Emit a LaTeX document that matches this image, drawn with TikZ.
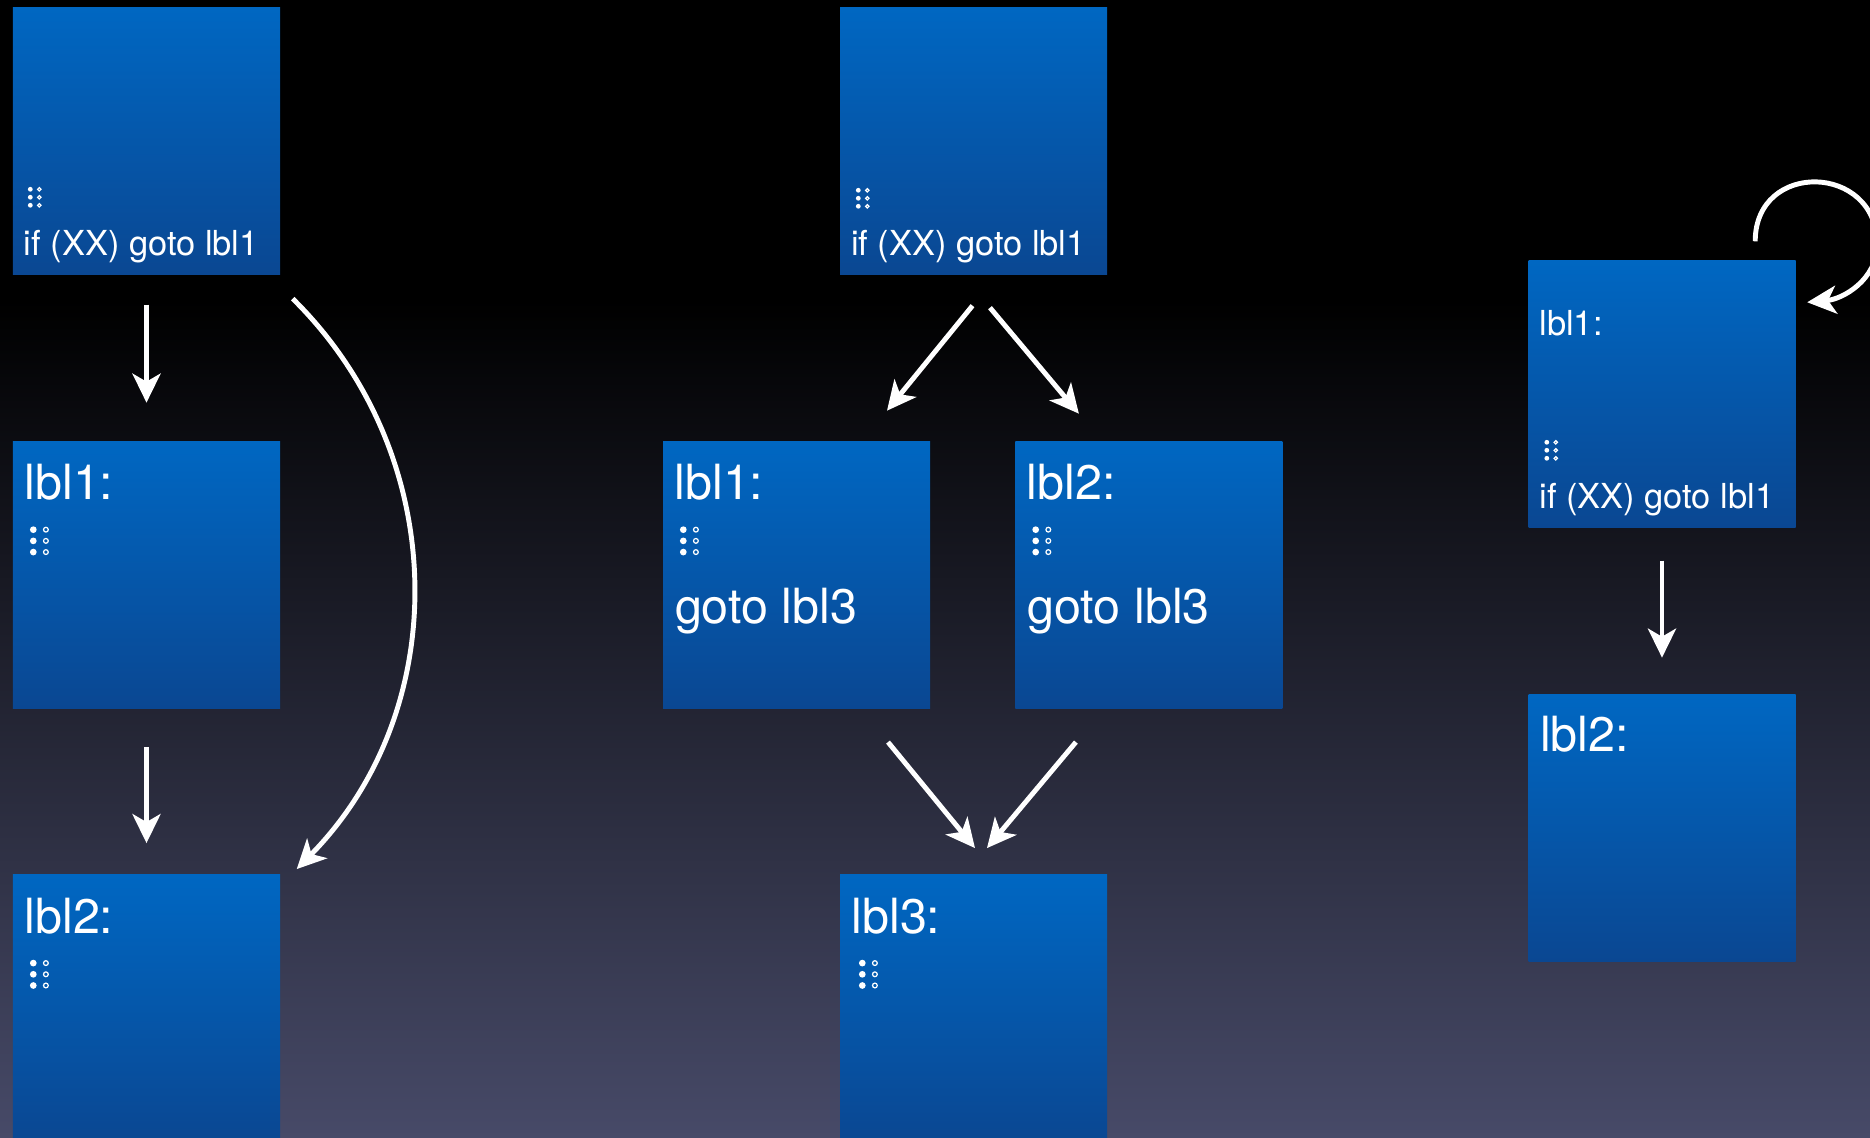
\documentclass[tikz,border=0pt]{standalone}
\usepackage{fontspec}
\setmainfont{TeX Gyre Heros}
\usetikzlibrary{positioning,arrows.meta}

\definecolor{boxtop}{HTML}{0067C2}
\definecolor{boxbot}{HTML}{0A4792}
\definecolor{bgmid}{HTML}{0C0E30}
\definecolor{bgbot}{HTML}{474A68}

\begin{document}
\begin{tikzpicture}[node distance=1.65cm,
  block/.style={rectangle, minimum width=2.67cm, minimum height=2.67cm, inner sep=0pt,
    top color=boxtop, bottom color=boxbot},
  code/.style={text=white, inner sep=0pt, anchor=base west, font=\fontsize{9.8}{12}\selectfont},
  bigcode/.style={code, font=\fontsize{13.8}{16}\selectfont},
  flow/.style={draw=white, line width=1.4pt, -{Stealth[length=0.29cm,width=0.28cm,inset=0.08cm]}},
  ellip/.pic={
    \foreach \k in {0,1,2}{
      \fill[white] (0,-0.08*\k) circle (0.024);
      \draw[white, line width=0.35pt] (0.09,-0.08*\k) circle (0.017);
    }}]
  \useasboundingbox (0,0) rectangle (18.7,11.38);
  % backdrop
  \fill[black] (0,0) rectangle (18.7,11.38);
  \shade[top color=black, middle color=bgmid, bottom color=bgbot] (0,0) rectangle (18.7,8.38);

  % left: if / fall through
  \node[block] (b1) at (1.465,9.965) {};
  \node[block, below=of b1] (b2) {};
  \node[block, below=of b2] (b3) {};
  \pic at ([shift={(0.18,-1.82)}]b1.north west) {ellip};
  \node[code] (b1t) at ([shift={(0.11,-2.48)}]b1.north west) {if (XX) goto lbl1};
  \node[bigcode] (b2t) at ([shift={(0.115,-0.59)}]b2.north west) {lbl1:};
  \pic[scale=1.4] at ([shift={(0.21,-0.89)}]b2.north west) {ellip};
  \node[bigcode] (b3t) at ([shift={(0.115,-0.59)}]b3.north west) {lbl2:};
  \pic[scale=1.4] at ([shift={(0.21,-0.89)}]b3.north west) {ellip};

  \draw[flow] ([yshift=-0.29cm]b1.south) -- ([yshift=0.38cm]b2.north);
  \draw[flow] ([yshift=-0.38cm]b2.south) -- ([yshift=0.31cm]b3.north);
  \draw[flow] ([shift={(0.12,-0.23)}]b1.south east) to[bend left=45] ([shift={(0.16,0.05)}]b3.north east);

  % middle: diamond
  \node[block] (mtop) at (9.735,9.965) {};
  \node[block, below=of mtop, xshift=-1.77cm] (m1) {};
  \node[block, right=0.84cm of m1] (m2) {};
  \node[block, below=of m1, xshift=1.77cm] (m3) {};
  \pic at ([shift={(0.19,-1.83)}]mtop.north west) {ellip};
  \node[code] (mtopt) at ([shift={(0.11,-2.48)}]mtop.north west) {if (XX) goto lbl1};
  \node[bigcode] (m1t) at ([shift={(0.115,-0.59)}]m1.north west) {lbl1:};
  \pic[scale=1.4] at ([shift={(0.21,-0.89)}]m1.north west) {ellip};
  \node[bigcode] (m1g) at ([shift={(0.12,-1.83)}]m1.north west) {goto lbl3};
  \node[bigcode] (m2t) at ([shift={(0.115,-0.59)}]m2.north west) {lbl2:};
  \pic[scale=1.4] at ([shift={(0.21,-0.89)}]m2.north west) {ellip};
  \node[bigcode] (m2g) at ([shift={(0.12,-1.83)}]m2.north west) {goto lbl3};
  \node[bigcode] (m3t) at ([shift={(0.115,-0.59)}]m3.north west) {lbl3:};
  \pic[scale=1.4] at ([shift={(0.23,-0.89)}]m3.north west) {ellip};

  \draw[flow] ([shift={(-0.01,-0.30)}]mtop.south) -- ([shift={(0.905,0.30)}]m1.north);
  \draw[flow] ([shift={(0.165,-0.32)}]mtop.south) -- ([shift={(-0.70,0.27)}]m2.north);
  \draw[flow] ([shift={(0.915,-0.33)}]m1.south) -- ([shift={(0.015,0.26)}]m3.north);
  \draw[flow] ([shift={(-0.73,-0.33)}]m2.south) -- ([shift={(0.135,0.26)}]m3.north);

  % right: loop
  \node[block] (r1) at (16.62,7.435) {};
  \node[block, below=of r1] (r2) {};
  \node[code] (r1t) at ([shift={(0.11,-0.75)}]r1.north west) {lbl1:};
  \pic at ([shift={(0.19,-1.82)}]r1.north west) {ellip};
  \node[code] (r1i) at ([shift={(0.11,-2.48)}]r1.north west) {if (XX) goto lbl1};
  \node[bigcode] (r2t) at ([shift={(0.115,-0.58)}]r2.north west) {lbl2:};

  \draw[flow] ([yshift=-0.32cm]r1.south) -- ([yshift=0.36cm]r2.north);
  \coordinate (loopa) at ([shift={(-0.41,0.19)}]r1.north east);
  \coordinate (loopb) at ([shift={(0.81,0.16)}]r1.north east);
  \draw[flow] (loopa) to[out=90,in=90,looseness=1.7] (loopb)
    to[out=-90,in=5] ([shift={(0.11,-0.42)}]r1.north east);
\end{tikzpicture}
\end{document}
